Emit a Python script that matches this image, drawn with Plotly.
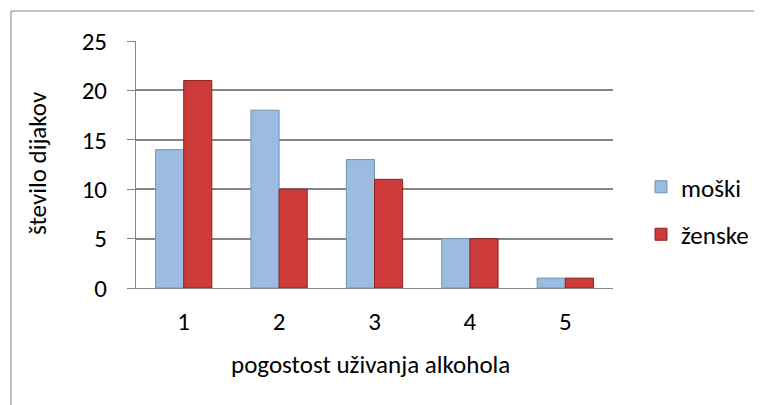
import plotly.graph_objects as go

categories = ["1", "2", "3", "4", "5"]
moski = [14, 18, 13, 5, 1]
zenske = [21, 10, 11, 5, 1]
series_names = ["moški", "ženske"]
y_ticks = [0, 5, 10, 15, 20, 25]
x_title = "pogostost uživanja alkohola"
y_title = "število dijakov"

FONT = "Carlito, Calibri, Lato, 'Open Sans', sans-serif"
FS = 25
GRID = "#868686"

fig = go.Figure()
fig.add_trace(go.Bar(
    x=categories, y=moski, name=series_names[0], legendgroup="a",
    marker=dict(color="#9BBBE0", line=dict(color="#6F95B3", width=1)),
))
fig.add_trace(go.Bar(
    x=categories, y=zenske, name=series_names[1], legendgroup="b",
    marker=dict(color="#CC3A3A", line=dict(color="#8C2424", width=1)),
))

# page offset (body margin) compensation
OFF = 8
W, H = 762, 405
L, T = 136 - OFF, 41 - OFF
pw, ph = 477, 247
R, B = W - L - pw, H - T - ph

def px_x(px):
    return (px - OFF - L) / pw

def px_y(py):
    return (T + ph - (py - OFF)) / ph

fig.update_layout(
    width=W, height=H,
    margin=dict(l=L, r=R, t=T, b=B),
    paper_bgcolor="white", plot_bgcolor="white",
    font=dict(family=FONT, size=FS, color="#000000"),
    barmode="group", bargap=0.41, bargroupgap=0.0,
    showlegend=True,
    legend=dict(
        x=px_x(641), y=px_y(164), xanchor="left", yanchor="top",
        font=dict(family=FONT, size=FS, color="#000000"),
        tracegroupgap=12, bgcolor="rgba(0,0,0,0)",
        itemwidth=30,
    ),
    xaxis=dict(
        type="category", showgrid=False, showline=True, linecolor=GRID, linewidth=1,
        ticks="", ticklabelstandoff=11, tickfont=dict(size=FS),
        zeroline=False,
    ),
    yaxis=dict(
        range=[0, 25], tickvals=y_ticks, showgrid=True, gridcolor=GRID, gridwidth=1.5,
        showline=True, linecolor=GRID, linewidth=1,
        ticks="outside", ticklen=8, tickcolor=GRID, ticklabelstandoff=15,
        tickfont=dict(size=FS), zeroline=False,
    ),
    annotations=[
        dict(text=x_title, xref="paper", yref="paper", x=px_x(370), y=px_y(364),
             xanchor="center", yanchor="middle", showarrow=False,
             font=dict(family=FONT, size=FS)),
        dict(text=y_title, xref="paper", yref="paper", x=px_x(37), y=px_y(163),
             xanchor="center", yanchor="middle", showarrow=False, textangle=-90,
             font=dict(family=FONT, size=FS)),
    ],
    shapes=[
        dict(type="line", xref="paper", yref="paper", x0=px_x(11), x1=px_x(11),
             y0=px_y(11), y1=px_y(420), line=dict(color=GRID, width=1)),
        dict(type="line", xref="paper", yref="paper", x0=px_x(11), x1=px_x(780),
             y0=px_y(11), y1=px_y(11), line=dict(color=GRID, width=1)),
    ],
)

fig.write_html("out.html")
